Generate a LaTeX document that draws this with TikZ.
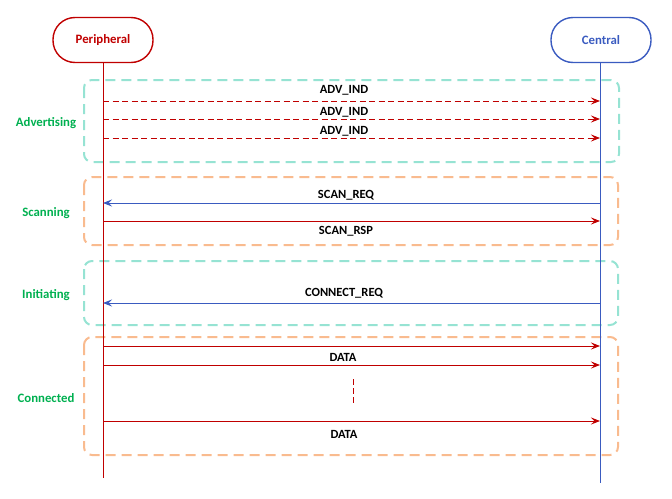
\documentclass[tikz,border=0pt]{standalone}
\usepackage{fontspec}
\setmainfont{Carlito}
\usetikzlibrary{arrows.meta}
\definecolor{pred}{HTML}{C00000}
\definecolor{cblue}{HTML}{3A5BC0}
\definecolor{aqua}{HTML}{96E3D3}
\definecolor{orng}{HTML}{F9BB8F}
\definecolor{phgreen}{HTML}{00B050}
\tikzset{
  actor/.style={draw, line width=1.4pt, rounded corners=22pt, minimum width=100pt, minimum height=45pt, font=\bfseries\fontsize{12.8}{15}\selectfont},
  phasebox/.style={line width=2pt, dash pattern=on 10pt off 6pt, rounded corners=8pt},
  phaselabel/.style={text=phgreen, font=\bfseries\fontsize{12.8}{15}\selectfont},
  msg/.style={font=\bfseries\fontsize{12.5}{15}\selectfont},
  arr/.style={-{Stealth[length=9pt,width=7pt,inset=3.5pt]}, line width=0.8pt},
}
\begin{document}
\begin{tikzpicture}[x=1pt,y=-1pt]
\useasboundingbox (0,0) rectangle (672,498);
% phase boxes
\draw[phasebox, aqua] (84,80) rectangle (619,162);
\draw[phasebox, orng] (84,177) rectangle (618,245);
\draw[phasebox, aqua] (84,261) rectangle (618,325);
\draw[phasebox, orng] (84,337) rectangle (618,455);
% actors
\node[actor, pred] (per) at (103,40) {Peripheral};
\node[actor, cblue] (cen) at (601,40) {Central};
\coordinate (perend) at (103,478);
\coordinate (cenend) at (600,483);
\draw[pred, line width=0.8pt] (per.south) -- (perend);
\draw[cblue, line width=0.8pt] ([xshift=-1pt]cen.south) -- (cenend);
% phase labels
\node[phaselabel] (ladv) at (46,123) {Advertising};
\node[phaselabel] (lscan) at (46,213) {Scanning};
\node[phaselabel] (linit) at (46,295) {Initiating};
\node[phaselabel] (lconn) at (46,398) {Connected};
% message end points
\foreach \n/\y in {a1/101,a2/119,a3/138,s1/203,s2/221,c1/303,d1/346,d2/365,d3/421}{
  \coordinate (p\n) at (103,\y);
  \coordinate (c\n) at (600,\y);
}
% advertising
\draw[arr, pred, dash pattern=on 6pt off 3.5pt] (pa1) -- (ca1);
\draw[arr, pred, dash pattern=on 6pt off 3.5pt] (pa2) -- (ca2);
\draw[arr, pred, dash pattern=on 6pt off 3.5pt] (pa3) -- (ca3);
\node[msg] (m1) at (344,90) {ADV\_IND};
\node[msg] (m2) at (344,112) {ADV\_IND};
\node[msg] (m3) at (344,131) {ADV\_IND};
% scanning
\draw[arr, cblue] (cs1) -- (ps1);
\node[msg] (m4) at (346,195) {SCAN\_REQ};
\draw[arr, pred] (ps2) -- (cs2);
\node[msg] (m5) at (346,231) {SCAN\_RSP};
% initiating
\draw[arr, cblue] (cc1) -- (pc1);
\node[msg] (m6) at (344,293) {CONNECT\_REQ};
% connected
\draw[arr, pred] (pd1) -- (cd1);
\draw[arr, pred] (pd2) -- (cd2);
\node[msg] (m7) at (343,357) {DATA};
\coordinate (dt) at (353,379);
\coordinate (db) at (353,405);
\draw[pred, line width=0.8pt, dash pattern=on 6pt off 3pt] (dt) -- (db);
\draw[arr, pred] (pd3) -- (cd3);
\node[msg] (m8) at (344,434) {DATA};
\end{tikzpicture}
\end{document}
